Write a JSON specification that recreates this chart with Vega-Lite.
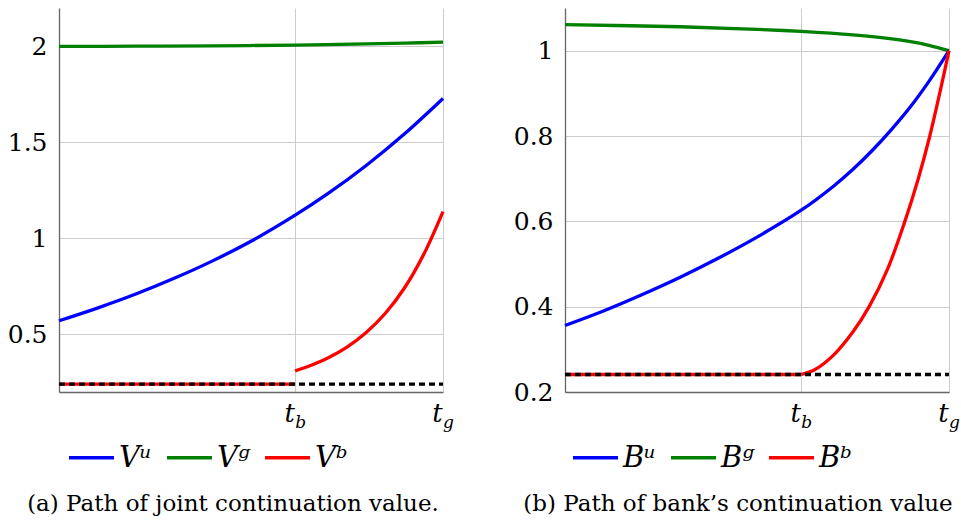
{
  "$schema": "https://vega.github.io/schema/vega-lite/v6.json",
  "padding": {"left": 7, "top": 8, "right": 0, "bottom": 0},
  "background": "white",
  "spacing": 59,
  "config": {
    "view": {"stroke": null},
    "font": "DejaVu Serif",
    "axis": {"labelFont": "DejaVu Serif", "labelColor": "black", "domainColor": "#666666", "domainWidth": 1.3, "gridColor": "#cccccc", "gridWidth": 1, "ticks": false, "title": null, "labelFlush": false},
    "legend": {"orient": "none", "direction": "horizontal", "title": null, "symbolType": "stroke", "symbolSize": 2025, "symbolStrokeWidth": 3.5, "labelFont": "DejaVu Serif", "labelFontStyle": "italic", "labelFontSize": 29, "labelColor": "black", "labelOffset": 3, "columnPadding": 8, "symbolOffset": 0, "padding": 0},
    "title": {"font": "DejaVu Serif", "fontSize": 23, "fontWeight": "normal", "color": "black", "orient": "bottom", "anchor": "middle", "frame": "group"}
  },
  "resolve": {"scale": {"color": "independent", "x": "independent", "y": "independent"}, "legend": {"color": "independent"}},
  "datasets": {
    "a": [
      {"s": "Vᵍ", "seg": "g", "x": 0, "y": 2.0},
      {"s": "Vᵍ", "seg": "g", "x": 0.2, "y": 2.001},
      {"s": "Vᵍ", "seg": "g", "x": 0.4, "y": 2.003},
      {"s": "Vᵍ", "seg": "g", "x": 0.615, "y": 2.007},
      {"s": "Vᵍ", "seg": "g", "x": 0.8, "y": 2.013},
      {"s": "Vᵍ", "seg": "g", "x": 0.9, "y": 2.017},
      {"s": "Vᵍ", "seg": "g", "x": 1, "y": 2.022},
      {"s": "Vᵘ", "seg": "u", "x": 0, "y": 0.571},
      {"s": "Vᵘ", "seg": "u", "x": 0.1, "y": 0.637},
      {"s": "Vᵘ", "seg": "u", "x": 0.2, "y": 0.71},
      {"s": "Vᵘ", "seg": "u", "x": 0.3, "y": 0.792},
      {"s": "Vᵘ", "seg": "u", "x": 0.4, "y": 0.883},
      {"s": "Vᵘ", "seg": "u", "x": 0.5, "y": 0.985},
      {"s": "Vᵘ", "seg": "u", "x": 0.615, "y": 1.121},
      {"s": "Vᵘ", "seg": "u", "x": 0.7, "y": 1.233},
      {"s": "Vᵘ", "seg": "u", "x": 0.8, "y": 1.38},
      {"s": "Vᵘ", "seg": "u", "x": 0.9, "y": 1.545},
      {"s": "Vᵘ", "seg": "u", "x": 1, "y": 1.729},
      {"s": "Vᵇ", "seg": "b1", "x": 0, "y": 0.241},
      {"s": "Vᵇ", "seg": "b1", "x": 0.615, "y": 0.241},
      {"s": "Vᵇ", "seg": "b2", "x": 0.615, "y": 0.31},
      {"s": "Vᵇ", "seg": "b2", "x": 0.65, "y": 0.334},
      {"s": "Vᵇ", "seg": "b2", "x": 0.7, "y": 0.377},
      {"s": "Vᵇ", "seg": "b2", "x": 0.75, "y": 0.434},
      {"s": "Vᵇ", "seg": "b2", "x": 0.8, "y": 0.51},
      {"s": "Vᵇ", "seg": "b2", "x": 0.85, "y": 0.61},
      {"s": "Vᵇ", "seg": "b2", "x": 0.9, "y": 0.743},
      {"s": "Vᵇ", "seg": "b2", "x": 0.95, "y": 0.918},
      {"s": "Vᵇ", "seg": "b2", "x": 1, "y": 1.14}
    ],
    "abase": [
      {"x": 0, "y": 0.241},
      {"x": 1, "y": 0.241}
    ],
    "asub": [
      {"x": 0.615, "y": 0.2, "t": "b"},
      {"x": 1, "y": 0.2, "t": "g"}
    ],
    "b": [
      {"s": "Bᵍ", "seg": "g", "x": 0, "y": 1.061},
      {"s": "Bᵍ", "seg": "g", "x": 0.3, "y": 1.056},
      {"s": "Bᵍ", "seg": "g", "x": 0.5, "y": 1.05},
      {"s": "Bᵍ", "seg": "g", "x": 0.615, "y": 1.045},
      {"s": "Bᵍ", "seg": "g", "x": 0.75, "y": 1.037},
      {"s": "Bᵍ", "seg": "g", "x": 0.83, "y": 1.03},
      {"s": "Bᵍ", "seg": "g", "x": 0.9, "y": 1.021},
      {"s": "Bᵍ", "seg": "g", "x": 0.95, "y": 1.012},
      {"s": "Bᵍ", "seg": "g", "x": 1, "y": 1.0},
      {"s": "Bᵘ", "seg": "u", "x": 0, "y": 0.356},
      {"s": "Bᵘ", "seg": "u", "x": 0.1, "y": 0.39},
      {"s": "Bᵘ", "seg": "u", "x": 0.2, "y": 0.428},
      {"s": "Bᵘ", "seg": "u", "x": 0.3, "y": 0.469},
      {"s": "Bᵘ", "seg": "u", "x": 0.4, "y": 0.514},
      {"s": "Bᵘ", "seg": "u", "x": 0.5, "y": 0.563},
      {"s": "Bᵘ", "seg": "u", "x": 0.615, "y": 0.626},
      {"s": "Bᵘ", "seg": "u", "x": 0.7, "y": 0.683},
      {"s": "Bᵘ", "seg": "u", "x": 0.75, "y": 0.722},
      {"s": "Bᵘ", "seg": "u", "x": 0.8, "y": 0.766},
      {"s": "Bᵘ", "seg": "u", "x": 0.85, "y": 0.815},
      {"s": "Bᵘ", "seg": "u", "x": 0.9, "y": 0.869},
      {"s": "Bᵘ", "seg": "u", "x": 0.95, "y": 0.931},
      {"s": "Bᵘ", "seg": "u", "x": 1, "y": 1.0},
      {"s": "Bᵇ", "seg": "b1", "x": 0, "y": 0.241},
      {"s": "Bᵇ", "seg": "b1", "x": 0.615, "y": 0.241},
      {"s": "Bᵇ", "seg": "b2", "x": 0.615, "y": 0.241},
      {"s": "Bᵇ", "seg": "b2", "x": 0.65, "y": 0.252},
      {"s": "Bᵇ", "seg": "b2", "x": 0.7, "y": 0.287},
      {"s": "Bᵇ", "seg": "b2", "x": 0.75, "y": 0.341},
      {"s": "Bᵇ", "seg": "b2", "x": 0.792, "y": 0.4},
      {"s": "Bᵇ", "seg": "b2", "x": 0.84, "y": 0.488},
      {"s": "Bᵇ", "seg": "b2", "x": 0.884, "y": 0.597},
      {"s": "Bᵇ", "seg": "b2", "x": 0.92, "y": 0.7},
      {"s": "Bᵇ", "seg": "b2", "x": 0.95, "y": 0.8},
      {"s": "Bᵇ", "seg": "b2", "x": 0.975, "y": 0.897},
      {"s": "Bᵇ", "seg": "b2", "x": 1, "y": 1.0}
    ]
  },
  "hconcat": [
    {
      "width": 384,
      "height": 384,
      "title": {"text": "(a) Path of joint continuation value.", "dx": -18, "offset": 20},
      "layer": [
        {
          "data": {"name": "a"},
          "mark": {"type": "line", "strokeWidth": 3.3, "interpolate": "catmull-rom"},
          "encoding": {
            "x": {"field": "x", "type": "quantitative", "scale": {"domain": [0, 1], "nice": false, "zero": false},
                  "axis": {"values": [0.615, 1], "labelExpr": "'t'", "labelFontStyle": "italic", "labelFontSize": 26, "labelOffset": -6, "labelPadding": 8, "grid": true}},
            "y": {"field": "y", "type": "quantitative", "scale": {"domain": [0.2, 2.2], "nice": false, "zero": false},
                  "axis": {"values": [0.5, 1, 1.5, 2], "labelExpr": "'' + datum.value", "labelFontSize": 25, "labelPadding": 12, "grid": true}},
            "color": {"field": "s", "type": "nominal", "scale": {"domain": ["Vᵘ", "Vᵍ", "Vᵇ"], "range": ["#0000ff", "#008000", "#ff0000"]},
                      "legend": {"legendX": 8, "legendY": 425}},
            "detail": {"field": "seg"}
          }
        },
        {
          "data": {"name": "abase"},
          "mark": {"type": "line", "stroke": "black", "strokeWidth": 3.3, "strokeDash": [6, 4]},
          "encoding": {
            "x": {"field": "x", "type": "quantitative"},
            "y": {"field": "y", "type": "quantitative"}
          }
        },
        {
          "data": {"name": "asub"},
          "mark": {"type": "text", "fontStyle": "italic", "fontSize": 17, "align": "left", "baseline": "alphabetic", "dx": 0, "dy": 36, "font": "DejaVu Serif"},
          "encoding": {
            "x": {"field": "x", "type": "quantitative"},
            "y": {"field": "y", "type": "quantitative"},
            "text": {"field": "t"}
          }
        }
      ]
    },
    {
      "width": 384,
      "height": 384,
      "title": {"text": "(b) Path of bank’s continuation value", "dx": -19, "offset": 20},
      "layer": [
        {
          "data": {"name": "b"},
          "mark": {"type": "line", "strokeWidth": 3.3, "interpolate": "catmull-rom"},
          "encoding": {
            "x": {"field": "x", "type": "quantitative", "scale": {"domain": [0, 1], "nice": false, "zero": false},
                  "axis": {"values": [0.615, 1], "labelExpr": "'t'", "labelFontStyle": "italic", "labelFontSize": 26, "labelOffset": -6, "labelPadding": 8, "grid": true}},
            "y": {"field": "y", "type": "quantitative", "scale": {"domain": [0.2, 1.1], "nice": false, "zero": false},
                  "axis": {"values": [0.2, 0.4, 0.6, 0.8, 1], "labelExpr": "'' + datum.value", "labelFontSize": 25, "labelPadding": 12, "grid": true}},
            "color": {"field": "s", "type": "nominal", "scale": {"domain": ["Bᵘ", "Bᵍ", "Bᵇ"], "range": ["#0000ff", "#008000", "#ff0000"]},
                      "legend": {"legendX": 6, "legendY": 425}},
            "detail": {"field": "seg"}
          }
        },
        {
          "data": {"name": "abase"},
          "mark": {"type": "line", "stroke": "black", "strokeWidth": 3.3, "strokeDash": [6, 4]},
          "encoding": {
            "x": {"field": "x", "type": "quantitative"},
            "y": {"field": "y", "type": "quantitative"}
          }
        },
        {
          "data": {"name": "asub"},
          "mark": {"type": "text", "fontStyle": "italic", "fontSize": 17, "align": "left", "baseline": "alphabetic", "dx": 0, "dy": 36, "font": "DejaVu Serif"},
          "encoding": {
            "x": {"field": "x", "type": "quantitative"},
            "y": {"field": "y", "type": "quantitative"},
            "text": {"field": "t"}
          }
        }
      ]
    }
  ]
}
